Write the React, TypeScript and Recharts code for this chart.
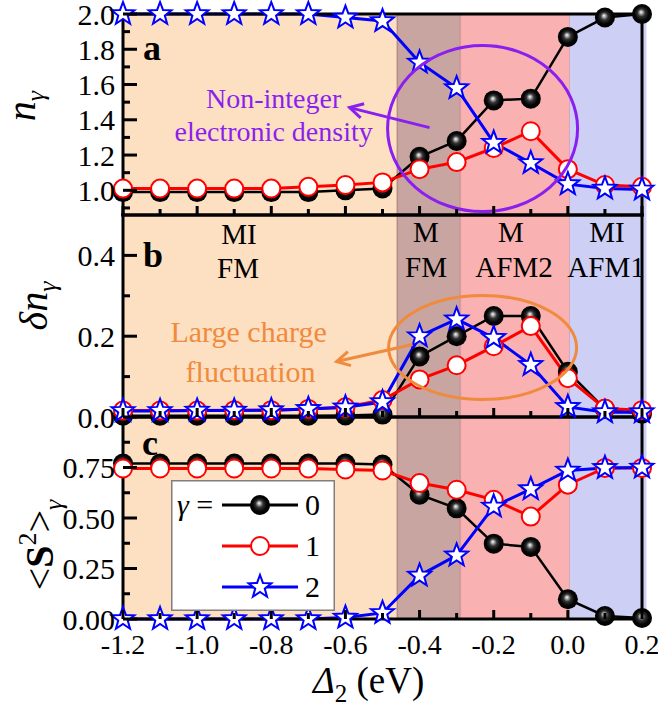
import React from "react";
import { LineChart, Line, XAxis, YAxis, ReferenceArea, ReferenceDot, Legend } from "recharts";

// ---------------- data ----------------
const delta = [-1.2, -1.1, -1.0, -0.9, -0.8, -0.7, -0.6, -0.5, -0.4, -0.3, -0.2, -0.1, 0.0, 0.1, 0.2];

const nGamma0 = [0.99, 0.99, 0.99, 0.99, 0.99, 0.99, 1.0, 1.01, 1.19, 1.28, 1.51, 1.52, 1.87, 1.98, 2.0];
const nGamma1 = [1.01, 1.01, 1.01, 1.01, 1.01, 1.02, 1.03, 1.045, 1.12, 1.16, 1.24, 1.335, 1.12, 1.03, 1.02];
const nGamma2 = [2.0, 2.0, 2.0, 2.0, 2.0, 2.0, 1.98, 1.96, 1.725, 1.58, 1.27, 1.155, 1.035, 1.01, 1.005];

const dnGamma0 = [0.003, 0.003, 0.003, 0.003, 0.003, 0.003, 0.004, 0.006, 0.15, 0.2, 0.25, 0.25, 0.112, 0.02, 0.008];
const dnGamma1 = [0.016, 0.016, 0.016, 0.017, 0.017, 0.02, 0.024, 0.042, 0.093, 0.128, 0.175, 0.225, 0.096, 0.021, 0.017];
const dnGamma2 = [0.015, 0.015, 0.016, 0.016, 0.017, 0.02, 0.024, 0.037, 0.2, 0.242, 0.196, 0.129, 0.025, 0.012, 0.012];

const sGamma0 = [0.77, 0.77, 0.77, 0.77, 0.77, 0.77, 0.77, 0.765, 0.615, 0.548, 0.373, 0.357, 0.098, 0.015, 0.005];
const sGamma1 = [0.745, 0.745, 0.745, 0.745, 0.745, 0.745, 0.74, 0.735, 0.673, 0.64, 0.59, 0.507, 0.665, 0.748, 0.748];
const sGamma2 = [0, 0, 0, 0, 0, 0, 0.007, 0.03, 0.215, 0.315, 0.557, 0.643, 0.735, 0.748, 0.75];

const seriesNames = ["0", "1", "2"];

const xTicks = [-1.2, -1.1, -1.0, -0.9, -0.8, -0.7, -0.6, -0.5, -0.4, -0.3, -0.2, -0.1, 0.0, 0.1, 0.2];
const xMajor = [-1.2, -1.0, -0.8, -0.6, -0.4, -0.2, 0.0, 0.2];
const nTicks = [0.9, 1.0, 1.1, 1.2, 1.3, 1.4, 1.5, 1.6, 1.7, 1.8, 1.9, 2.0];
const nMajor = [1.0, 1.2, 1.4, 1.6, 1.8, 2.0];
const dnTicks = [0.0, 0.1, 0.2, 0.3, 0.4];
const dnMajor = [0.0, 0.2, 0.4];
const sTicks = [0.0, 0.125, 0.25, 0.375, 0.5, 0.625, 0.75, 0.875];
const sMajor = [0.0, 0.25, 0.5, 0.75];

// phase boundaries (Delta_2, eV)
const phaseBounds = [-1.2, -0.46, -0.29, 0.005, 0.212];
const phaseLabels = [["MI", "FM"], ["M", "FM"], ["M", "AFM2"], ["MI", "AFM1"]];

// ---------------- styling ----------------
const SERIF = '"Liberation Serif", "Times New Roman", Times, serif';
const PHASE_FILL = ["#FDDFC1", "#C8A5A0", "#F9B1B1", "#CDCFF5"];
const PHASE_STROKE = ["none", "#B58B86", "#D99A9F", "none"];
const SERIES_COLOR = ["#000000", "#ff0000", "#0000ff"];
const PURPLE = "#8A1FEF";
const ORANGE = "#F08A3C";
const AXIS_LINE = { stroke: "#000", strokeWidth: 3, strokeLinecap: "square" as const };
const X_DOMAIN: [number, number] = [-1.2, 0.2];
const W = 658;

const rows = (a: number[], b: number[], c: number[]) =>
  delta.map((x, i) => ({ x, g0: a[i], g1: b[i], g2: c[i] }));

const dataA = rows(nGamma0, nGamma1, nGamma2);
const dataB = rows(dnGamma0, dnGamma1, dnGamma2);
const dataC = rows(sGamma0, sGamma1, sGamma2);

const isIn = (list: number[], v: number) => list.some((m) => Math.abs(m - v) < 1e-9);

// ---------------- markers ----------------
const starPoints = (cx: number, cy: number, R: number, r: number) => {
  const pts: string[] = [];
  for (let k = 0; k < 10; k++) {
    const ang = -Math.PI / 2 + (k * Math.PI) / 5;
    const rad = k % 2 === 0 ? R : r;
    pts.push(`${(cx + rad * Math.cos(ang)).toFixed(2)},${(cy + rad * Math.sin(ang)).toFixed(2)}`);
  }
  return pts.join(" ");
};

function Marker({ kind, cx, cy }: { kind: number; cx: number; cy: number }) {
  if (kind === 0) return <circle cx={cx} cy={cy} r={10} fill="url(#ballGrad)" />;
  if (kind === 1) return <circle cx={cx} cy={cy} r={9} fill="#fff" stroke="#ff0000" strokeWidth={2} />;
  return <polygon points={starPoints(cx, cy, 12, 5)} fill="#fff" stroke="#0000ff" strokeWidth={2} />;
}

const dotFor = (kind: number) => (p: any) => {
  if (p.cx == null || p.cy == null) return <g key={`m${kind}-${p.index}`} />;
  return <Marker key={`m${kind}-${p.index}`} kind={kind} cx={p.cx} cy={p.cy} />;
};

// ---------------- ticks ----------------
const xTick = (showLabel: boolean) => (p: any) => {
  const v = p.payload.value;
  const major = isIn(xMajor, v);
  const len = major ? 9 : 6;
  return (
    <g key={`xt-${v}`}>
      <line x1={p.x} x2={p.x} y1={p.y} y2={p.y - len} stroke="#000" strokeWidth={3} />
      {showLabel && major ? (
        <text x={p.x} y={p.y + 35} textAnchor="middle" fontFamily={SERIF} fontSize={28} fill="#000">
          {v.toFixed(1)}
        </text>
      ) : null}
    </g>
  );
};

const yTick = (majors: number[], digits: number) => (p: any) => {
  const v = p.payload.value;
  const major = isIn(majors, v);
  const len = major ? 14 : 7;
  return (
    <g key={`yt-${v}`}>
      <line x1={p.x} x2={p.x + len} y1={p.y} y2={p.y} stroke="#000" strokeWidth={3} />
      {major ? (
        <text x={p.x - 8} y={p.y} dy="0.35em" textAnchor="end" fontFamily={SERIF} fontSize={30} fill="#000">
          {v.toFixed(digits)}
        </text>
      ) : null}
    </g>
  );
};

// ---------------- shared pieces ----------------
const phaseAreas = () =>
  PHASE_FILL.map((fill, i) => (
    <ReferenceArea
      key={`ph${i}`}
      x1={phaseBounds[i]}
      x2={phaseBounds[i + 1]}
      fill={fill}
      fillOpacity={1}
      stroke={PHASE_STROKE[i]}
      strokeWidth={1.5}
      ifOverflow="visible"
    />
  ));

const axes = (
  yDomain: [number, number],
  yTicks: number[],
  yMajor: number[],
  digits: number,
  showXLabels: boolean,
  visible: boolean
) => [
  <XAxis
    key="xb"
    dataKey="x"
    type="number"
    domain={X_DOMAIN}
    ticks={xTicks}
    interval={0}
    height={1}
    tickSize={0}
    tickMargin={0}
    tickLine={false}
    axisLine={visible ? AXIS_LINE : false}
    tick={visible ? xTick(showXLabels) : false}
  />,
  <XAxis
    key="xt"
    xAxisId="top"
    orientation="top"
    type="number"
    domain={X_DOMAIN}
    height={1}
    tick={false}
    tickLine={false}
    axisLine={visible ? AXIS_LINE : false}
  />,
  <YAxis
    key="yl"
    type="number"
    domain={yDomain}
    ticks={yTicks}
    interval={0}
    width={123}
    tickSize={0}
    tickMargin={0}
    tickLine={false}
    axisLine={visible ? AXIS_LINE : false}
    tick={visible ? yTick(yMajor, digits) : false}
  />,
  <YAxis
    key="yr"
    yAxisId="right"
    orientation="right"
    type="number"
    domain={yDomain}
    width={1}
    tick={false}
    tickLine={false}
    axisLine={visible ? AXIS_LINE : false}
  />,
];

const lines = () =>
  [0, 1, 2].map((k) => (
    <Line
      key={`l${k}`}
      type="linear"
      dataKey={`g${k}`}
      name={seriesNames[k]}
      stroke={SERIES_COLOR[k]}
      strokeWidth={k === 0 ? 2.5 : 3}
      dot={dotFor(k)}
      activeDot={false}
      isAnimationActive={false}
    />
  ));

// invisible series so the background chart has graphical items
const ghostLines = () =>
  [0, 1, 2].map((k) => (
    <Line
      key={`gl${k}`}
      type="linear"
      dataKey={`g${k}`}
      stroke="none"
      strokeOpacity={0}
      dot={false}
      activeDot={false}
      legendType="none"
      isAnimationActive={false}
    />
  ));

// arrow with open head
function Arrow({ x1, y1, x2, y2, color }: { x1: number; y1: number; x2: number; y2: number; color: string }) {
  const ang = Math.atan2(y2 - y1, x2 - x1);
  const h = 15;
  const a1 = ang + Math.PI - 0.5;
  const a2 = ang + Math.PI + 0.5;
  return (
    <g>
      <line x1={x1} y1={y1} x2={x2} y2={y2} stroke={color} strokeWidth={3} />
      <polyline
        points={`${x2 + h * Math.cos(a1)},${y2 + h * Math.sin(a1)} ${x2},${y2} ${x2 + h * Math.cos(a2)},${y2 + h * Math.sin(a2)}`}
        fill="none"
        stroke={color}
        strokeWidth={3}
      />
    </g>
  );
}

const purpleCallout = (p: any) => {
  const { cx, cy } = p;
  return (
    <g>
      <ellipse cx={cx} cy={cy} rx={95} ry={83} fill="none" stroke={PURPLE} strokeWidth={3} />
      <Arrow x1={cx - 53} y1={cy - 1} x2={cx - 133} y2={cy - 21} color={PURPLE} />
      <text x={cx - 209} y={cy - 21} textAnchor="middle" fontFamily={SERIF} fontSize={28} fill={PURPLE}>
        Non-integer
      </text>
      <text x={cx - 209} y={cy + 12} textAnchor="middle" fontFamily={SERIF} fontSize={28} fill={PURPLE}>
        electronic density
      </text>
    </g>
  );
};

const orangeCallout = (p: any) => {
  const { cx, cy } = p;
  return (
    <g>
      <ellipse cx={cx} cy={cy} rx={94} ry={52} fill="none" stroke={ORANGE} strokeWidth={3} />
      <Arrow x1={cx - 70} y1={cy - 3} x2={cx - 146} y2={cy + 14} color={ORANGE} />
      <text x={cx - 234} y={cy - 6} textAnchor="middle" fontFamily={SERIF} fontSize={30} fill={ORANGE}>
        Large charge
      </text>
      <text x={cx - 232} y={cy + 34} textAnchor="middle" fontFamily={SERIF} fontSize={30} fill={ORANGE}>
        fluctuation
      </text>
    </g>
  );
};

const legendContent = (props: any) => {
  const payload = ((props && props.payload) || []).filter((e: any) => e.type !== "none");
  return (
    <svg width={164} height={131} style={{ display: "block" }}>
      <rect x={0.75} y={0.75} width={162.5} height={129.5} fill="#fff" stroke="#7f7f7f" strokeWidth={1.5} />
      <text x={6} y={35} fontFamily={SERIF} fontSize={30} fill="#000">
        <tspan fontStyle="italic">γ</tspan>
        <tspan> =</tspan>
      </text>
      {payload.map((e: any, i: number) => {
        const y = 25 + i * 41;
        return (
          <g key={`lg${i}`}>
            <line x1={51} x2={127} y1={y} y2={y} stroke={e.color} strokeWidth={3} />
            <Marker kind={i} cx={89} cy={y} />
            <text x={134} y={y + 10} fontFamily={SERIF} fontSize={30} fill="#000">
              {e.value}
            </text>
          </g>
        );
      })}
    </svg>
  );
};

type PanelSpec = {
  data: any[];
  top: number;
  height: number;
  margin: { top: number; right: number; bottom: number; left: number };
  yDomain: [number, number];
  yTicks: number[];
  yMajor: number[];
  digits: number;
  showX: boolean;
};

const renderBackground = (s: PanelSpec) => (
  <div style={{ position: "absolute", left: 0, top: s.top }}>
    <LineChart width={W} height={s.height} data={s.data} margin={s.margin}>
      {axes(s.yDomain, s.yTicks, s.yMajor, s.digits, s.showX, false)}
      {phaseAreas()}
      {ghostLines()}
    </LineChart>
  </div>
);

const specA: PanelSpec = {
  data: dataA,
  top: 0,
  height: 240,
  margin: { top: 13, right: 15, bottom: 24, left: 0 },
  yDomain: [0.86, 2.0],
  yTicks: nTicks,
  yMajor: nMajor,
  digits: 1,
  showX: false,
};
const specB: PanelSpec = {
  data: dataB,
  top: 180,
  height: 260,
  margin: { top: 34, right: 15, bottom: 22, left: 0 },
  yDomain: [0, 0.5],
  yTicks: dnTicks,
  yMajor: dnMajor,
  digits: 1,
  showX: false,
};
const specC: PanelSpec = {
  data: dataC,
  top: 380,
  height: 331,
  margin: { top: 36, right: 15, bottom: 91, left: 0 },
  yDomain: [0, 1.0],
  yTicks: sTicks,
  yMajor: sMajor,
  digits: 2,
  showX: true,
};

export default function App() {
  return (
    <div style={{ position: "absolute", left: 0, top: 0, width: W, height: 711, background: "#fff", overflow: "hidden" }}>
      <svg width={0} height={0} style={{ position: "absolute" }}>
        <defs>
          <radialGradient id="ballGrad" cx="50%" cy="50%" r="50%" fx="45%" fy="40%">
            <stop offset="0%" stopColor="#ffffff" />
            <stop offset="14%" stopColor="#b4b4b4" />
            <stop offset="38%" stopColor="#333333" />
            <stop offset="70%" stopColor="#050505" />
            <stop offset="100%" stopColor="#000000" />
          </radialGradient>
        </defs>
      </svg>

      {/* phase backgrounds */}
      {renderBackground(specC)}
      {renderBackground(specB)}
      {renderBackground(specA)}

      {/* panel c */}
      <div style={{ position: "absolute", left: 0, top: specC.top }}>
        <LineChart width={W} height={specC.height} data={specC.data} margin={specC.margin}>
          {axes(specC.yDomain, specC.yTicks, specC.yMajor, specC.digits, specC.showX, true)}
          {lines()}
          <Legend
            layout="vertical"
            align="center"
            verticalAlign="middle"
            content={legendContent}
            wrapperStyle={{ left: 171, top: 100, width: 164, height: 131 }}
          />
        </LineChart>
      </div>

      {/* panel b */}
      <div style={{ position: "absolute", left: 0, top: specB.top }}>
        <LineChart width={W} height={specB.height} data={specB.data} margin={specB.margin}>
          {axes(specB.yDomain, specB.yTicks, specB.yMajor, specB.digits, specB.showX, true)}
          {lines()}
          <ReferenceDot x={-0.23} y={0.172} r={0} ifOverflow="visible" shape={orangeCallout} />
        </LineChart>
      </div>

      {/* panel a */}
      <div style={{ position: "absolute", left: 0, top: specA.top }}>
        <LineChart width={W} height={specA.height} data={specA.data} margin={specA.margin}>
          {axes(specA.yDomain, specA.yTicks, specA.yMajor, specA.digits, specA.showX, true)}
          {lines()}
          <ReferenceDot x={-0.23} y={1.35} r={0} ifOverflow="visible" shape={purpleCallout} />
        </LineChart>
      </div>

      {/* titles and labels */}
      <svg width={W} height={711} style={{ position: "absolute", left: 0, top: 0, pointerEvents: "none" }}>
        <g fontFamily={SERIF} fill="#000">
          <text transform="translate(35,106) rotate(-90)" textAnchor="middle" fontSize={40}>
            <tspan fontStyle="italic">n</tspan>
            <tspan fontStyle="italic" fontSize={26} dy={9}>γ</tspan>
          </text>
          <text transform="translate(47,306) rotate(-90)" textAnchor="middle" fontSize={40}>
            <tspan fontStyle="italic">δn</tspan>
            <tspan fontStyle="italic" fontSize={26} dy={9}>γ</tspan>
          </text>
          <text transform="translate(53,545) rotate(-90)" textAnchor="middle" fontSize={40}>
            <tspan>&lt;</tspan>
            <tspan fontWeight="bold">S</tspan>
            <tspan fontSize={26} dy={-17}>2</tspan>
            <tspan dy={17}>&gt;</tspan>
            <tspan fontStyle="italic" fontSize={26} dy={9}>γ</tspan>
          </text>
          <text x={313} y={693} fontSize={37}>
            <tspan fontStyle="italic">Δ</tspan>
            <tspan fontSize={25} dy={9}>2</tspan>
            <tspan dy={-9}> (eV)</tspan>
          </text>
          <text x={143} y={60} fontSize={36} fontWeight="bold">a</text>
          <text x={143} y={267} fontSize={36} fontWeight="bold">b</text>
          <text x={142} y={455} fontSize={36} fontWeight="bold">c</text>
          <g fontSize={29} textAnchor="middle">
            <text x={239} y={244}>{phaseLabels[0][0]}</text>
            <text x={238} y={278}>{phaseLabels[0][1]}</text>
            <text x={426} y={242}>{phaseLabels[1][0]}</text>
            <text x={426} y={277}>{phaseLabels[1][1]}</text>
            <text x={511} y={242}>{phaseLabels[2][0]}</text>
            <text x={514} y={277}>{phaseLabels[2][1]}</text>
            <text x={607} y={242}>{phaseLabels[3][0]}</text>
            <text x={606} y={277}>{phaseLabels[3][1]}</text>
          </g>
        </g>
      </svg>
    </div>
  );
}
